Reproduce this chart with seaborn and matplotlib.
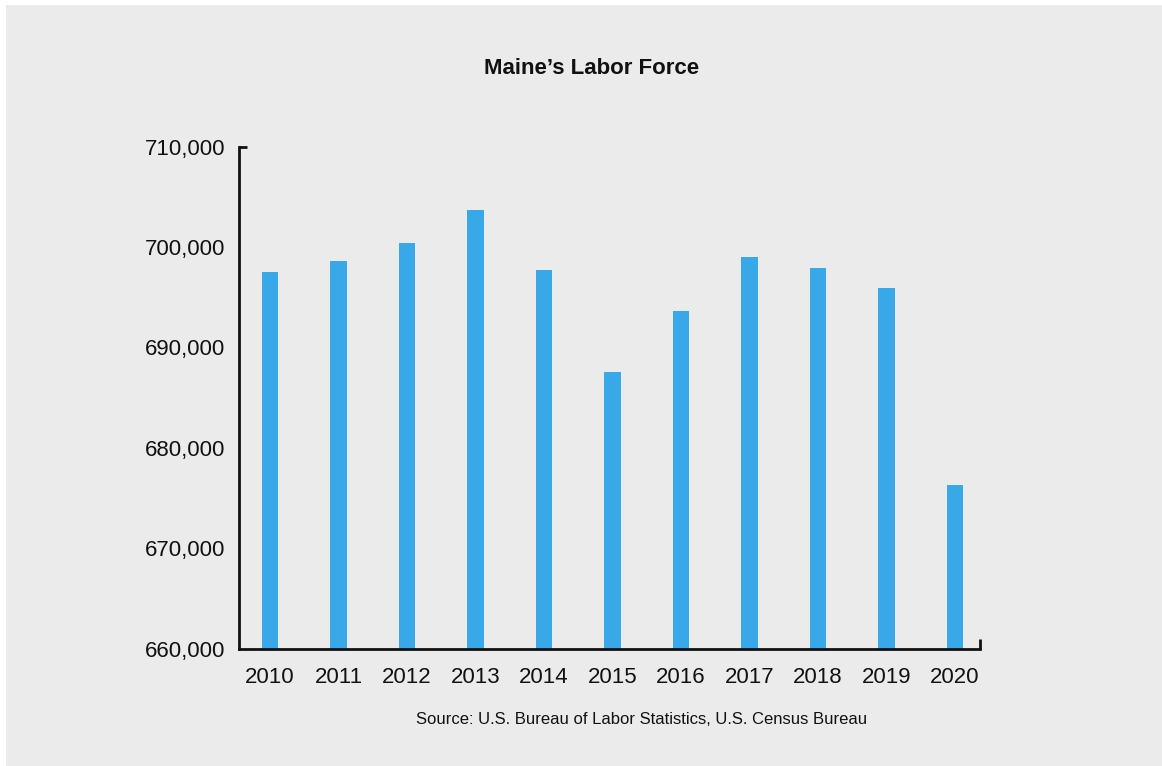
import matplotlib
matplotlib.use("Agg")
import matplotlib.pyplot as plt
import matplotlib.ticker as mticker
from matplotlib.patches import Rectangle
import seaborn as sns
import pandas as pd

years = ["2010", "2011", "2012", "2013", "2014", "2015", "2016", "2017", "2018", "2019", "2020"]
labor_force = [697500, 698600, 700400, 703700, 697700, 687600, 693600, 699000, 697900, 695900, 676300]
y_ticks = [660000, 670000, 680000, 690000, 700000, 710000]
title = "Maine\u2019s Labor Force"
source = "Source: U.S. Bureau of Labor Statistics, U.S. Census Bureau"

sns.set_theme(style="white")
plt.rcParams["font.family"] = ["Liberation Sans Narrow", "Liberation Sans", "DejaVu Sans"]

BG = "#ebebeb"
BAR = "#38a8e8"

W, H = 1162, 766
fig = plt.figure(figsize=(W / 100, H / 100), dpi=100)
fig.patch.set_facecolor("white")
fig.patches.append(Rectangle((6 / W, 0), 1 - 6 / W, 1 - 5 / H, transform=fig.transFigure,
                             facecolor=BG, edgecolor="none", zorder=-10))

left, right = 239 / W, 980 / W
bottom, top = (H - 648.7) / H, (H - 146.7) / H
ax = fig.add_axes([left, bottom, right - left, top - bottom])
ax.set_facecolor("none")

df = pd.DataFrame({"year": years, "value": labor_force})
sns.barplot(data=df, x="year", y="value", color=BAR, width=0.234, saturation=1,
            ax=ax, edgecolor="none")

ax.set_ylim(y_ticks[0], y_ticks[-1])
ax.set_xlim(-0.4526, 10.365)
ax.set_yticks(y_ticks)
ax.yaxis.set_major_formatter(mticker.FuncFormatter(lambda v, p: f"{int(v):,}"))
ax.set_xlabel("")
ax.set_ylabel("")

for s in ["top", "right"]:
    ax.spines[s].set_visible(False)
for s in ["left", "bottom"]:
    ax.spines[s].set_linewidth(2.0)
    ax.spines[s].set_color("#111111")

ax.tick_params(axis="y", which="major", length=0, pad=10, labelsize=16, labelcolor="#111111")
ax.tick_params(axis="x", which="major", length=0, pad=13, labelsize=16, labelcolor="#111111")
ax.yaxis.remove_overlapping_locs = False
ax.xaxis.remove_overlapping_locs = False
ax.yaxis.set_minor_locator(mticker.FixedLocator([y_ticks[-1]]))
ax.xaxis.set_minor_locator(mticker.FixedLocator([10.365]))
ax.tick_params(axis="y", which="minor", direction="in", length=5.5, width=2.0, color="#111111", left=True)
ax.tick_params(axis="x", which="minor", direction="in", length=7, width=2.0, color="#111111", bottom=True)

fig.text(592 / W, 1 - 68 / H, title, ha="center", va="center", fontsize=16, fontweight="bold", color="#111111")
fig.text(642 / W, 1 - 719 / H, source, ha="center", va="center", fontsize=12, color="#111111")

fig.savefig("out.png", dpi=100, facecolor=fig.get_facecolor())
